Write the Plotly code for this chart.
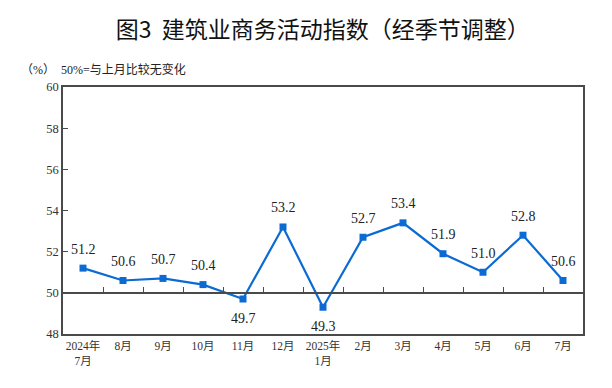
import plotly.graph_objects as go

categories = ["2024年<br>7月", "8月", "9月", "10月", "11月", "12月", "2025年<br>1月",
              "2月", "3月", "4月", "5月", "6月", "7月"]
values = [51.2, 50.6, 50.7, 50.4, 49.7, 53.2, 49.3, 52.7, 53.4, 51.9, 51.0, 52.8, 50.6]
label_pos = ["above", "above", "above", "above", "below", "above", "below",
             "above", "above", "above", "above", "above", "above"]

y_min, y_max, y_step = 48, 60, 2
ref_level = 50

line_color = "#0b6bd3"
axis_color = "#4a4a4a"
serif = "Times New Roman, Liberation Serif, DejaVu Serif, Noto Sans CJK SC, serif"

idx = list(range(len(categories)))

fig = go.Figure()
fig.add_trace(go.Scatter(
    x=idx, y=values, mode="lines+markers",
    line=dict(color=line_color, width=2.2),
    marker=dict(symbol="square", size=7, color=line_color),
    hoverinfo="skip", showlegend=False,
))
# invisible helper trace so the reference axis (at 50) is drawn
fig.add_trace(go.Scatter(
    x=idx, y=values, xaxis="x2", mode="markers",
    marker=dict(opacity=0), hoverinfo="skip", showlegend=False,
))

for i, (v, p) in enumerate(zip(values, label_pos)):
    fig.add_annotation(
        x=i, y=v, text=f"{v:.1f}", showarrow=False,
        yshift=19 if p == "above" else -19,
        font=dict(family=serif, size=14, color="#222222"),
    )

fig.update_layout(
    width=604, height=380,
    margin=dict(l=55, r=29, t=79, b=54),
    paper_bgcolor="white", plot_bgcolor="white",
    title=dict(text="图3  建筑业商务活动指数（经季节调整）",
               x=0.521, xanchor="center", y=0.942, yanchor="middle",
               font=dict(family="Noto Sans CJK SC", size=23, color="#111111")),
    xaxis=dict(
        range=[-0.5, len(categories) - 0.5],
        tickvals=idx, ticktext=categories,
        showline=True, linecolor=axis_color, linewidth=1.5, mirror=True,
        ticks="", showgrid=False, zeroline=False,
        tickfont=dict(family=serif, size=11.5, color="#333333"),
    ),
    xaxis2=dict(
        overlaying="x", anchor="free",
        position=(ref_level - y_min) / (y_max - y_min),
        range=[-0.5, len(categories) - 0.5],
        tickvals=[i + 0.5 for i in idx[:-1]],
        ticks="inside", ticklen=5, tickwidth=1, tickcolor=axis_color,
        showticklabels=False, showline=True, linecolor=axis_color, linewidth=1.5,
        showgrid=False, zeroline=False,
    ),
    yaxis=dict(
        range=[y_min, y_max], dtick=y_step, tick0=y_min,
        showline=True, linecolor=axis_color, linewidth=1.5, mirror=True,
        ticks="inside", ticklen=5, tickcolor=axis_color,
        showgrid=False, zeroline=False,
        tickfont=dict(family=serif, size=12.5, color="#333333"),
    ),
)

fig.add_annotation(
    xref="paper", yref="paper", x=-0.084, y=1.069, xanchor="left", yanchor="middle",
    text="（%）  50%=与上月比较无变化", showarrow=False,
    font=dict(family=serif, size=12, color="#222222"),
)

fig.write_html("out.html")
